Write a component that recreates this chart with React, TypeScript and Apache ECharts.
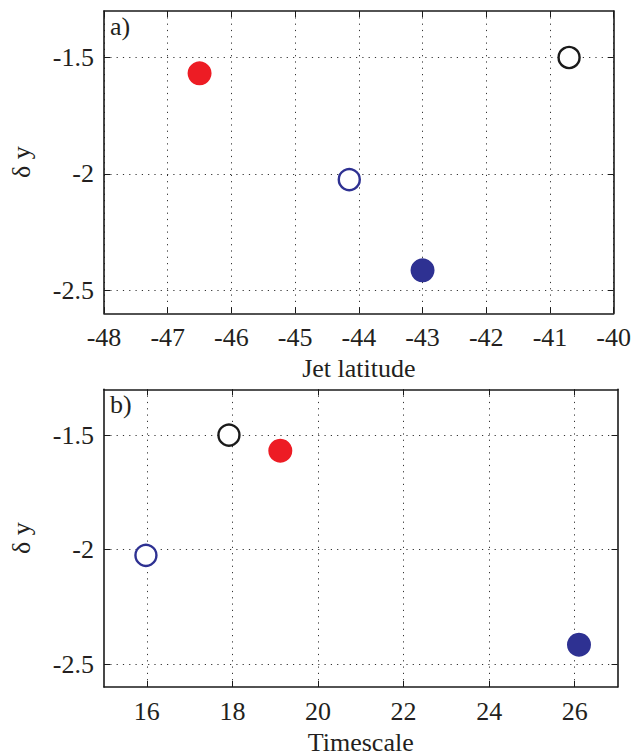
import React, { useEffect, useRef } from "react";
import * as echarts from "echarts";

// Data
const jetLatitude = [-46.5, -40.7, -44.15, -43.0];
const timescale = [19.12, 17.92, 15.98, 26.1];
const deltaY = [-1.568, -1.5, -2.025, -2.415];

// Marker appearance for each point (colour, filled or open)
const markerColors = ["#ed1c24", "#1a1a1a", "#2e3192", "#2e3192"];
const markerFilled = [true, false, false, true];

// Tick values
const yTicks = [-2.5, -2, -1.5];
const timeTicks = [16, 18, 20, 22, 24, 26];

const FONT = "'Liberation Serif', 'Times New Roman', serif";
const TEXT = "#231f20";

export default function App() {
  const ref = useRef<HTMLDivElement>(null);

  useEffect(() => {
    if (!ref.current) return;
    const chart = echarts.init(ref.current, undefined, { renderer: "svg" });

    const axisLine = { show: true, onZero: false, lineStyle: { color: "#1a1a1a", width: 1.6 } };
    const tick = { show: true, inside: true, length: 6, lineStyle: { color: "#1a1a1a", width: 1 } };
    const split = { show: true, lineStyle: { color: "#333", width: 1, type: [1.2, 5.1] } };
    const label = { fontSize: 26, fontFamily: FONT, color: TEXT };

    const pointData = (xs: number[]) =>
      xs.map((x, i) => ({
        value: [x, deltaY[i]],
        symbolSize: markerFilled[i] ? 24 : 21,
        itemStyle: markerFilled[i]
          ? { color: markerColors[i], borderWidth: 0, opacity: 1 }
          : { color: "#ffffff", borderColor: markerColors[i], borderWidth: 2.4, opacity: 1 },
      }));

    const yBase = (gridIndex: number) => ({
      gridIndex,
      type: "value",
      min: -2.6,
      max: -1.3,
      axisLine,
    });

    chart.setOption({
      animation: false,
      backgroundColor: "#ffffff",
      textStyle: { fontFamily: FONT },
      grid: [
        { left: 103, top: 11, width: 514.5, height: 302.3 },
        { left: 103, top: 389.3, width: 514.5, height: 302.4 },
      ],
      xAxis: [
        {
          gridIndex: 0,
          type: "value",
          min: -48,
          max: -40,
          interval: 1,
          position: "bottom",
          axisLine,
          axisTick: tick,
          axisLabel: { ...label, margin: 11 },
          splitLine: split,
          name: "Jet latitude",
          nameLocation: "middle",
          nameGap: 42,
          nameTextStyle: { ...label },
        },
        {
          gridIndex: 0,
          type: "value",
          min: -48,
          max: -40,
          interval: 1,
          position: "top",
          axisLine,
          axisTick: tick,
          axisLabel: { show: false },
          splitLine: { show: false },
        },
        {
          gridIndex: 1,
          type: "value",
          min: 15,
          max: 27,
          position: "bottom",
          axisLine,
          axisTick: { ...tick, customValues: timeTicks },
          axisLabel: { ...label, margin: 11, customValues: timeTicks },
          splitLine: split,
          name: "Timescale",
          nameLocation: "middle",
          nameGap: 42,
          nameTextStyle: { ...label },
        },
        {
          gridIndex: 1,
          type: "value",
          min: 15,
          max: 27,
          position: "top",
          axisLine,
          axisTick: { ...tick, customValues: timeTicks },
          axisLabel: { show: false, customValues: timeTicks },
          splitLine: { show: false },
        },
      ],
      yAxis: [
        {
          ...yBase(0),
          position: "left",
          axisTick: { ...tick, customValues: yTicks },
          axisLabel: { ...label, margin: 10, customValues: yTicks },
          splitLine: split,
          name: "δ y",
          nameLocation: "middle",
          nameGap: 70,
          nameTextStyle: { ...label },
        },
        {
          ...yBase(0),
          position: "right",
          axisTick: { ...tick, customValues: yTicks },
          axisLabel: { show: false, customValues: yTicks },
          splitLine: { show: false },
        },
        {
          ...yBase(1),
          position: "left",
          axisTick: { ...tick, customValues: yTicks },
          axisLabel: { ...label, margin: 10, customValues: yTicks },
          splitLine: split,
          name: "δ y",
          nameLocation: "middle",
          nameGap: 70,
          nameTextStyle: { ...label },
        },
        {
          ...yBase(1),
          position: "right",
          axisTick: { ...tick, customValues: yTicks },
          axisLabel: { show: false, customValues: yTicks },
          splitLine: { show: false },
        },
      ],
      graphic: [
        {
          type: "text",
          left: 110,
          top: 13,
          style: { text: "a)", font: `26px ${FONT}`, fill: TEXT },
        },
        {
          type: "text",
          left: 110,
          top: 391.5,
          style: { text: "b)", font: `26px ${FONT}`, fill: TEXT },
        },
      ],
      series: [
        {
          type: "scatter",
          xAxisIndex: 0,
          yAxisIndex: 0,
          symbol: "circle",
          data: pointData(jetLatitude),
          z: 5,
        },
        {
          type: "scatter",
          xAxisIndex: 2,
          yAxisIndex: 2,
          symbol: "circle",
          data: pointData(timescale),
          z: 5,
        },
      ],
    });

    return () => chart.dispose();
  }, []);

  return (
    <div
      ref={ref}
      style={{ position: "absolute", left: 0, top: 0, width: 634, height: 756 }}
    />
  );
}
